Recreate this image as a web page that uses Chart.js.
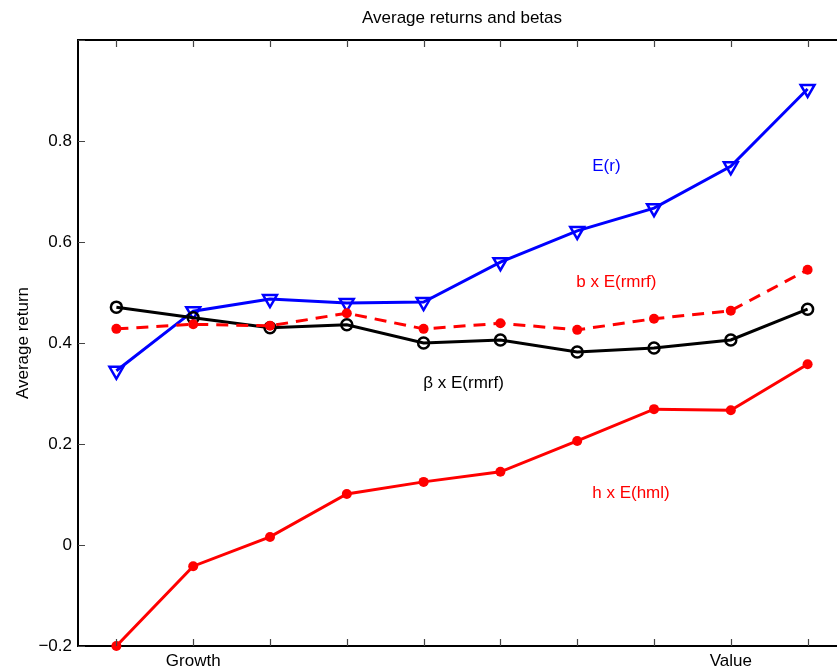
<!DOCTYPE html>
<html>
<head>
<meta charset="utf-8">
<script src="https://cdn.jsdelivr.net/npm/chart.js@4.4.1/dist/chart.umd.min.js"></script>
<style>
  html, body { margin: 0; padding: 0; background: #fff; overflow: hidden; }
  #wrap { width: 837px; height: 671px; overflow: hidden; }
</style>
</head>
<body>
<div id="wrap"><canvas id="chart" width="846" height="671"></canvas></div>
<script>
// 10 book-to-market portfolios, growth -> value
const portfolios = ["", "Growth", "", "", "", "", "", "", "Value", ""];
const expReturn = [0.345, 0.463, 0.487, 0.479, 0.481, 0.560, 0.622, 0.667, 0.750, 0.903];
const betaRmrf = [0.471, 0.450, 0.430, 0.436, 0.400, 0.406, 0.382, 0.390, 0.406, 0.467];
const bRmrf = [0.428, 0.437, 0.434, 0.459, 0.428, 0.439, 0.426, 0.448, 0.464, 0.545];
const hHml = [-0.200, -0.042, 0.016, 0.101, 0.125, 0.145, 0.206, 0.269, 0.267, 0.358];

// where the series names sit, in axis units
const seriesNotes = [
  { text: "E(r)", x: 6.38, y: 0.749, color: "#0000ff" },
  { text: "b x E(rmrf)", x: 6.51, y: 0.521, color: "#ff0000" },
  { text: "\u03b2 x E(rmrf)", x: 4.52, y: 0.321, color: "#000000" },
  { text: "h x E(hml)", x: 6.70, y: 0.103, color: "#ff0000" }
];

const FONT = "'Liberation Sans', Arial, Helvetica, sans-serif";
Chart.defaults.font.family = FONT;
Chart.defaults.font.size = 17;
Chart.defaults.color = "#000";

// top border + inward tick marks, matlab style
const frameTicks = {
  id: "frameTicks",
  afterDraw(chart) {
    const { ctx, chartArea: a, scales } = chart;
    const x = scales.x, y = scales.y;
    ctx.save();
    ctx.strokeStyle = "#000";
    ctx.lineWidth = 2;
    ctx.beginPath();
    ctx.moveTo(a.left, a.top);
    ctx.lineTo(a.right, a.top);
    ctx.stroke();

    ctx.strokeStyle = "#444";
    ctx.lineWidth = 1.2;
    ctx.beginPath();
    x.ticks.forEach((t, i) => {
      const px = Math.round(x.getPixelForTick(i)) + 0.5;
      ctx.moveTo(px, a.bottom);
      ctx.lineTo(px, a.bottom - 7);
      ctx.moveTo(px, a.top);
      ctx.lineTo(px, a.top + 7);
    });
    y.ticks.forEach((t, i) => {
      const py = Math.round(y.getPixelForTick(i)) + 0.5;
      ctx.moveTo(a.left, py);
      ctx.lineTo(a.left + 7, py);
    });
    ctx.stroke();

    ctx.font = "17px " + FONT;
    ctx.textAlign = "center";
    ctx.textBaseline = "middle";
    seriesNotes.forEach(n => {
      ctx.fillStyle = n.color;
      ctx.fillText(n.text, x.getPixelForValue(n.x), y.getPixelForValue(n.y));
    });
    ctx.restore();
  }
};

new Chart(document.getElementById("chart"), {
  type: "line",
  data: {
    labels: portfolios,
    datasets: [
      {
        label: "h x E(hml)",
        data: hHml,
        borderColor: "#ff0000",
        backgroundColor: "#ff0000",
        borderWidth: 3,
        pointStyle: "circle",
        pointRadius: 5,
        pointBorderWidth: 0,
        clip: false
      },
      {
        label: "b x E(rmrf)",
        data: bRmrf,
        borderColor: "#ff0000",
        backgroundColor: "#ff0000",
        borderWidth: 3,
        borderDash: [12, 8],
        pointStyle: "circle",
        pointRadius: 5,
        pointBorderWidth: 0,
        clip: false
      },
      {
        label: "beta x E(rmrf)",
        data: betaRmrf,
        borderColor: "#000000",
        backgroundColor: "rgba(0,0,0,0)",
        borderWidth: 3,
        pointStyle: "circle",
        pointRadius: 5.5,
        pointBorderWidth: 2.5,
        clip: false
      },
      {
        label: "E(r)",
        data: expReturn,
        borderColor: "#0000ff",
        backgroundColor: "rgba(0,0,0,0)",
        borderWidth: 3,
        pointStyle: "triangle",
        pointRotation: 180,
        pointRadius: 8,
        pointBorderWidth: 2.5,
        clip: false
      }
    ]
  },
  options: {
    responsive: false,
    animation: false,
    events: [],
    layout: { padding: 0, autoPadding: false },
    plugins: {
      legend: { display: false },
      tooltip: { enabled: false },
      title: {
        display: true,
        text: "Average returns and betas",
        fullSize: false,
        color: "#000",
        font: { size: 17, weight: "normal" },
        padding: { top: 8, bottom: 11.6 }
      }
    },
    scales: {
      x: {
        type: "category",
        offset: true,
        grid: { display: false, drawTicks: false },
        border: { display: true, color: "#000", width: 2 },
        ticks: { autoSkip: false, maxRotation: 0, padding: 5, color: "#000" },
        afterFit: s => { s.height = 25; s.paddingLeft = 0; s.paddingRight = 0; }
      },
      y: {
        type: "linear",
        min: -0.2,
        max: 1.0,
        grid: { display: false, drawTicks: false },
        border: { display: true, color: "#000", width: 2 },
        ticks: {
          stepSize: 0.2,
          padding: 6,
          color: "#000",
          callback: v => {
            const r = Math.round(v * 10) / 10;
            if (r >= 1) return "";
            if (r === 0) return "0";
            return (r < 0 ? "\u2212" : "") + Math.abs(r).toFixed(1);
          }
        },
        title: {
          display: true,
          text: "Average return",
          color: "#000",
          font: { size: 17 },
          padding: { top: 13.5, bottom: 0 }
        },
        afterFit: s => { s.width = 78; s.paddingTop = 0; s.paddingBottom = 0; }
      }
    }
  },
  plugins: [frameTicks]
});
</script>
</body>
</html>
